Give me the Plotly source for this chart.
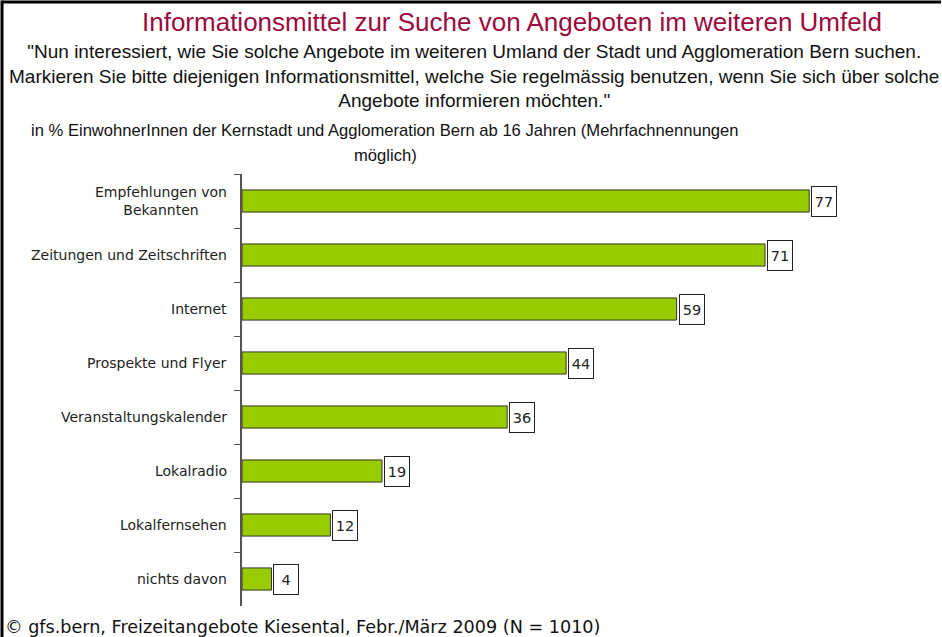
import plotly.graph_objects as go

categories = [
    "Empfehlungen von<br>Bekannten",
    "Zeitungen und Zeitschriften",
    "Internet",
    "Prospekte und Flyer",
    "Veranstaltungskalender",
    "Lokalradio",
    "Lokalfernsehen",
    "nichts davon",
]
values = [77, 71, 59, 44, 36, 19, 12, 4]

W, H = 942, 637
L, R, T, B = 242, 37, 174, 31
PW = W - L - R
PH = H - T - B


def px(x):
    return (x - L) / PW


def py(y):
    return 1 - (y - T) / PH


BAR = "#99CC00"
TITLE_RED = "#9B0A3C"
LABEL_FONT = "DejaVu Sans"
TEXT_FONT = "Liberation Sans"

fig = go.Figure(
    go.Bar(
        x=values,
        y=categories,
        orientation="h",
        marker=dict(color=BAR, line=dict(color="#333333", width=1)),
        width=0.41,
        hoverinfo="skip",
    )
)

annotations = []
# value boxes
for c, v in zip(categories, values):
    annotations.append(dict(
        x=v, y=c, xref="x", yref="y", text=str(v), showarrow=False,
        xanchor="left", yanchor="middle", xshift=2, bgcolor="white",
        bordercolor="#222222", borderwidth=1, borderpad=1,
        width=22, height=27,
        font=dict(family=LABEL_FONT, size=14.5, color="#222222"),
    ))
# category labels
for c in categories:
    annotations.append(dict(
        x=px(229), y=c, xref="paper", yref="y", text=c, showarrow=False,
        xanchor="right", yanchor="middle", align="center",
        font=dict(family=LABEL_FONT, size=14, color="#222222"),
    ))


def txt(x, y, text, size, color="#111111", family=TEXT_FONT, xanchor="center"):
    return dict(x=px(x), y=py(y), xref="paper", yref="paper", showarrow=False,
                xanchor=xanchor, yanchor="middle", align="center", text=text,
                font=dict(family=family, size=size, color=color))


annotations += [
    txt(512, 22, "Informationsmittel zur Suche von Angeboten im weiteren Umfeld",
        26, TITLE_RED),
    txt(474, 76,
        '"Nun interessiert, wie Sie solche Angebote im weiteren Umland der Stadt und Agglomeration Bern suchen.<br>'
        'Markieren Sie bitte diejenigen Informationsmittel, welche Sie regelmässig benutzen, wenn Sie sich über solche<br>'
        'Angebote informieren möchten."', 19),
    txt(385, 130,
        "in % EinwohnerInnen der Kernstadt und Agglomeration Bern ab 16 Jahren (Mehrfachnennungen",
        16.6),
    txt(385, 156, "möglich)", 16.6),
    txt(3, 627, "© gfs.bern, Freizeitangebote Kiesental, Febr./März 2009 (N = 1010)",
        17.6, family=LABEL_FONT, xanchor="left"),
]

fig.update_layout(
    width=W,
    height=H,
    margin=dict(l=L, r=R, t=T, b=B),
    paper_bgcolor="white",
    plot_bgcolor="white",
    showlegend=False,
    xaxis=dict(range=[0, 90], visible=False),
    yaxis=dict(
        autorange="reversed",
        showticklabels=False,
        showline=True,
        linecolor="#555555",
        linewidth=1.5,
        ticks="outside",
        tickson="boundaries",
        ticklen=6,
        tickcolor="#555555",
        showgrid=False,
        zeroline=False,
    ),
    annotations=annotations,
    shapes=[
        dict(type="line", xref="paper", yref="paper",
             x0=px(2), x1=px(941), y0=py(2), y1=py(2),
             line=dict(color="black", width=3)),
        dict(type="line", xref="paper", yref="paper",
             x0=px(2), x1=px(2), y0=py(0.5), y1=py(637),
             line=dict(color="black", width=3)),
    ],
)

fig.write_html(
    "out.html",
    config={"displayModeBar": False},
    post_script="document.body.style.margin='0';",
)
